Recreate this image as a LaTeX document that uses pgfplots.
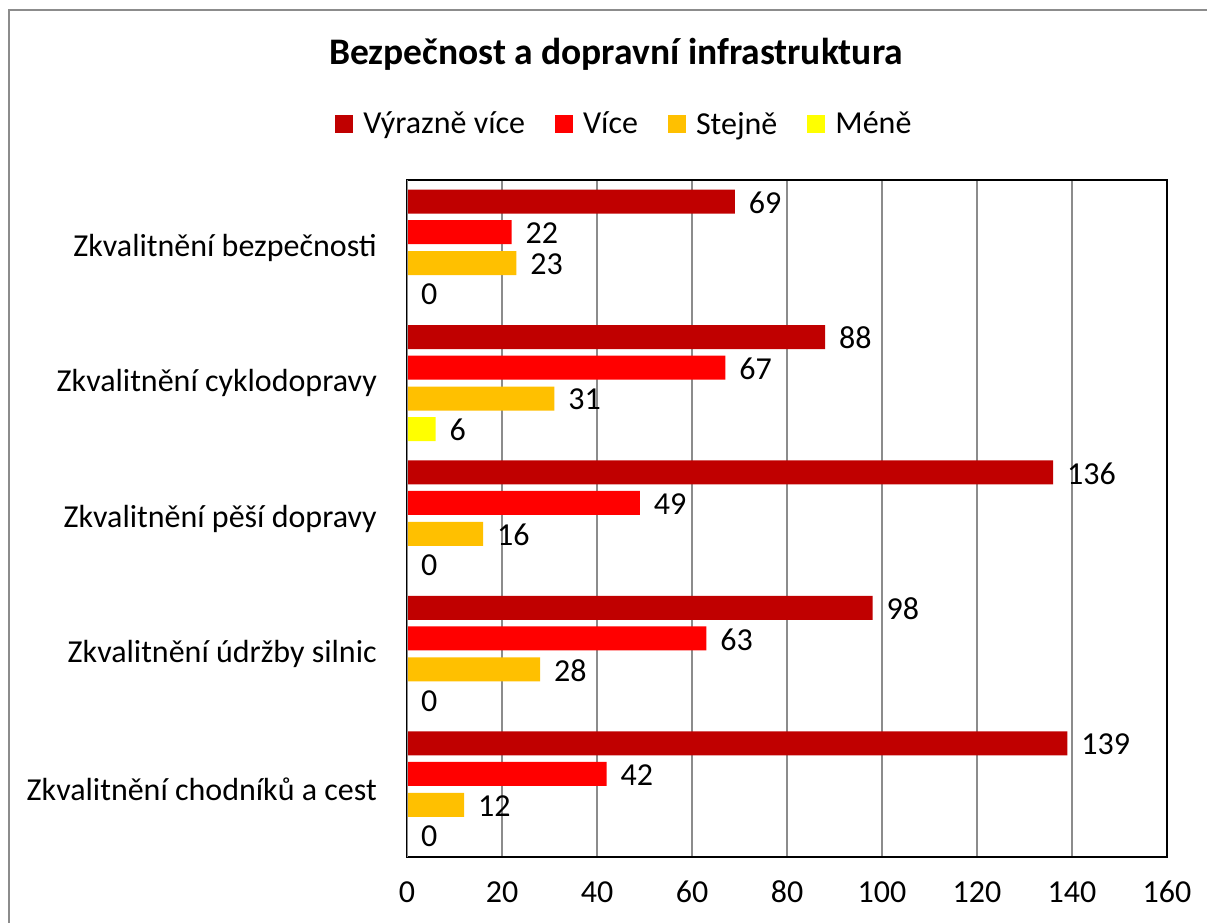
\documentclass[border=0pt]{standalone}
\usepackage{pgfplots}
\pgfplotsset{compat=1.18}
\usepackage{fontspec}
\setmainfont{Carlito}
\definecolor{c1}{HTML}{C00000}
\definecolor{c2}{HTML}{FF0000}
\definecolor{c3}{HTML}{FFC000}
\definecolor{c4}{HTML}{FFFF00}
\definecolor{bordergray}{HTML}{8C8C8C}
\definecolor{gridgray}{HTML}{8C8C8C}
\newcommand{\lf}{\fontsize{32}{38}\selectfont}
\begin{document}
\begin{tikzpicture}
\useasboundingbox (0,0) rectangle (1207pt,923pt);
\fill[white] (0,0) rectangle (1207pt,923pt);
\draw[bordergray, line width=2pt] (9pt,0) -- (9pt,913pt) -- (1207pt,913pt);
\node[anchor=base, font=\fontsize{37.5}{44}\selectfont\bfseries] at (616pt,858pt) {Bezpečnost a dopravní infrastruktura};
\begin{axis}[
  at={(407pt,66pt)}, anchor=south west,
  scale only axis, width=760pt, height=677pt,
  xbar, bar width=24pt,
  xmin=0, xmax=160, ymin=-0.5, ymax=4.5,
  xtick={0,20,...,160},
  ytick={0,1,2,3,4},
  yticklabels={Zkvalitnění chodníků a cest, Zkvalitnění údržby silnic, Zkvalitnění pěší dopravy, Zkvalitnění cyklodopravy, Zkvalitnění bezpečnosti},
  /pgf/number format/assume math mode=true,
  major tick length=0pt,
  tick style={draw=none},
  xmajorgrids, grid style={gridgray, line width=1.2pt},
  axis line style={black, line width=1.5pt},
  xticklabel style={font=\lf, inner sep=0pt, anchor=base, yshift=-46pt},
  yticklabel style={font=\lf, inner sep=0pt, xshift=-30pt},
  nodes near coords,
  every node near coord/.append style={font=\lf, inner sep=0pt, xshift=14pt, yshift=-1pt, anchor=west, black},
  legend style={at={(0.286,1.083)}, anchor=center, draw=none, fill=none, font=\lf, inner sep=0pt,
    /tikz/every odd column/.append style={column sep=8pt},
    /tikz/every even column/.append style={column sep=28pt}},
  legend columns=4,
  legend cell align=left,
  legend image code/.code={\fill[#1] (0pt,-9pt) rectangle (18pt,9pt);},
]
\addplot[fill=c1, draw=none, bar shift=46pt] coordinates {(69,4) (88,3) (136,2) (98,1) (139,0)};
\addplot[fill=c2, draw=none, bar shift=15.5pt] coordinates {(22,4) (67,3) (49,2) (63,1) (42,0)};
\addplot[fill=c3, draw=none, bar shift=-15.5pt] coordinates {(23,4) (31,3) (16,2) (28,1) (12,0)};
\addplot[fill=c4, draw=none, bar shift=-46pt] coordinates {(0,4) (6,3) (0,2) (0,1) (0,0)};
\legend{Výrazně více, Více, Stejně, Méně}
\draw[gridgray, line width=1.5pt] (rel axis cs:0,0) -- (rel axis cs:0,1);
\end{axis}
\end{tikzpicture}
\end{document}
